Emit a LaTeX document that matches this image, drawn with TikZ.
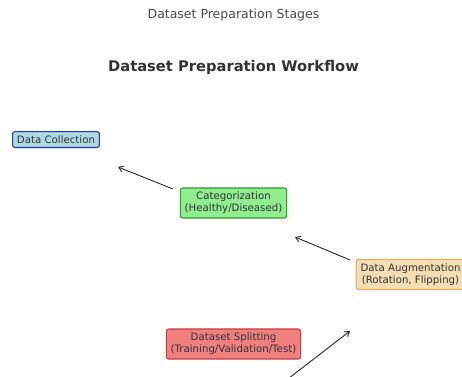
\documentclass[tikz,border=0pt]{standalone}
\usepackage{fontspec}
\setmainfont{DejaVu Sans}
\usetikzlibrary{arrows.meta}
\definecolor{txt}{HTML}{333333}
\definecolor{bfill}{HTML}{ADD8E6}\definecolor{bdraw}{HTML}{23399A}
\definecolor{gfill}{HTML}{90EE90}\definecolor{gdraw}{HTML}{2E9A2E}
\definecolor{wfill}{HTML}{F5DEB3}\definecolor{wdraw}{HTML}{DDB05A}
\definecolor{rfill}{HTML}{F08080}\definecolor{rdraw}{HTML}{C83C3C}
\tikzset{
  stagebox/.style={rounded corners=2.5pt, line width=1.1pt, align=center,
    inner xsep=4.4pt, inner ysep=4pt, text=txt,
    font=\fontsize{10.2}{12.2}\selectfont},
  flow/.style={-{Straight Barb[length=4.5pt,width=6pt]}, line width=0.9pt, black!85}
}
\begin{document}
\begin{tikzpicture}[x=1pt,y=-1pt]
\useasboundingbox (0,0) rectangle (462,376);
\clip (0,0) rectangle (462,376);
\node[text=txt!90, font=\fontsize{12.5}{14}\selectfont] (sub) at (233.5,15) {Dataset Preparation Stages};
\node[text=txt, font=\fontsize{14.7}{17}\bfseries] (title) at (233.5,67) {Dataset Preparation Workflow};
\node[stagebox, fill=bfill, draw=bdraw] (dc) at (56,139.5) {Data Collection};
\node[stagebox, fill=gfill, draw=gdraw] (cat) at (233.5,203) {Categorization\\(Healthy/Diseased)};
\node[stagebox, fill=wfill, draw=wdraw] (aug) at (410.5,274.5) {Data Augmentation\\(Rotation, Flipping)};
\node[stagebox, fill=rfill, draw=rdraw] (spl) at (233.5,344) {Dataset Splitting\\(Training/Validation/Test)};
\coordinate (a1s) at (173,189); \coordinate (a1e) at (118,167);
\coordinate (a2s) at (350,260); \coordinate (a2e) at (295,237);
\coordinate (a3s) at (280,385); \coordinate (a3e) at (350,331);
\draw[flow] (a1s) -- (a1e);
\draw[flow] (a2s) -- (a2e);
\draw[flow] (a3s) -- (a3e);
\end{tikzpicture}
\end{document}
